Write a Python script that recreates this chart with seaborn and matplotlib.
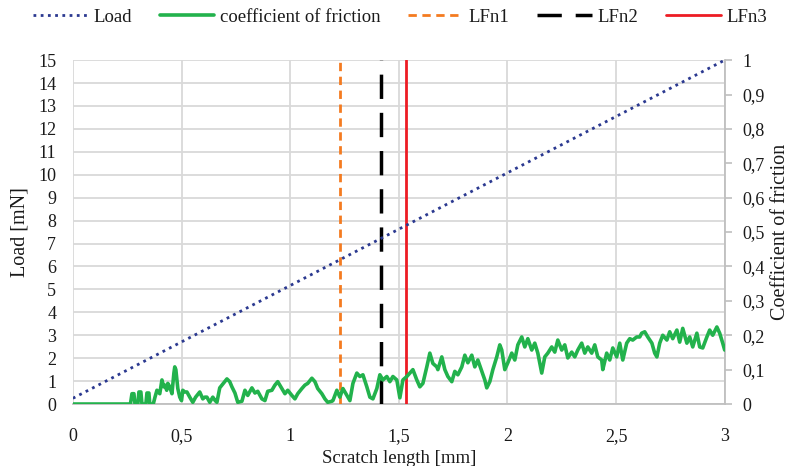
import numpy as np
import pandas as pd
import matplotlib
matplotlib.use("Agg")
import matplotlib.pyplot as plt
from matplotlib.ticker import FuncFormatter, MultipleLocator
from matplotlib.lines import Line2D
import seaborn as sns

# ==================== DATA ====================
load_x = [0.0, 3.0]
load_mn = [0.25, 15.0]

cof_x = [0.0, 0.265, 0.272, 0.281, 0.286, 0.299, 0.304, 0.313, 0.318, 0.336,
         0.341, 0.350, 0.354, 0.370, 0.378, 0.387, 0.400, 0.410, 0.418, 0.423,
         0.432, 0.437, 0.446, 0.456, 0.465, 0.469, 0.474, 0.479, 0.483, 0.492,
         0.500, 0.506, 0.515, 0.525, 0.538, 0.552, 0.565, 0.584, 0.598, 0.607,
         0.617, 0.630, 0.644, 0.655, 0.663, 0.676, 0.690, 0.709, 0.722, 0.732,
         0.746, 0.759, 0.778, 0.792, 0.805, 0.824, 0.838, 0.851, 0.870, 0.884,
         0.897, 0.916, 0.930, 0.943, 0.962, 0.976, 0.989, 1.008, 1.022, 1.035,
         1.054, 1.068, 1.081, 1.100, 1.114, 1.127, 1.146, 1.160, 1.173, 1.192,
         1.197, 1.215, 1.229, 1.243, 1.261, 1.275, 1.289, 1.307, 1.321, 1.335,
         1.353, 1.367, 1.381, 1.399, 1.413, 1.427, 1.445, 1.459, 1.473, 1.491,
         1.505, 1.519, 1.537, 1.551, 1.565, 1.583, 1.597, 1.611, 1.629, 1.643,
         1.657, 1.675, 1.680, 1.698, 1.712, 1.726, 1.744, 1.758, 1.772, 1.790,
         1.804, 1.818, 1.836, 1.850, 1.864, 1.882, 1.896, 1.905, 1.919, 1.933,
         1.951, 1.965, 1.974, 1.988, 2.002, 2.020, 2.034, 2.048, 2.066, 2.080,
         2.094, 2.112, 2.126, 2.140, 2.158, 2.172, 2.186, 2.204, 2.218, 2.232,
         2.250, 2.264, 2.278, 2.296, 2.310, 2.324, 2.342, 2.356, 2.370, 2.388,
         2.402, 2.416, 2.434, 2.439, 2.457, 2.471, 2.485, 2.503, 2.517, 2.531,
         2.549, 2.563, 2.577, 2.595, 2.609, 2.618, 2.632, 2.646, 2.665, 2.678,
         2.688, 2.701, 2.715, 2.734, 2.747, 2.761, 2.780, 2.793, 2.807, 2.826,
         2.839, 2.853, 2.872, 2.885, 2.899, 2.918, 2.931, 2.945, 2.964, 2.977,
         2.991, 3.000]
cof = [0.0, 0.0, 0.030, 0.030, 0.0, 0.0, 0.035, 0.035, 0.0, 0.0,
       0.032, 0.032, 0.0, 0.0, 0.020, 0.040, 0.030, 0.070, 0.050, 0.055,
       0.040, 0.060, 0.050, 0.030, 0.090, 0.108, 0.100, 0.070, 0.045, 0.020,
       0.010, 0.040, 0.035, 0.035, 0.020, 0.005, 0.020, 0.035, 0.015, 0.020,
       0.020, 0.005, 0.020, 0.010, 0.005, 0.047, 0.058, 0.073, 0.065, 0.050,
       0.032, 0.005, 0.008, 0.040, 0.025, 0.047, 0.032, 0.037, 0.015, 0.010,
       0.037, 0.040, 0.055, 0.065, 0.045, 0.030, 0.040, 0.025, 0.015, 0.030,
       0.045, 0.055, 0.060, 0.075, 0.065, 0.045, 0.030, 0.015, 0.005, 0.008,
       0.010, 0.040, 0.020, 0.045, 0.025, 0.010, 0.060, 0.090, 0.080, 0.085,
       0.050, 0.020, 0.015, 0.045, 0.085, 0.070, 0.080, 0.065, 0.080, 0.070,
       0.018, 0.070, 0.080, 0.090, 0.100, 0.070, 0.050, 0.060, 0.108, 0.148,
       0.118, 0.108, 0.100, 0.137, 0.100, 0.080, 0.065, 0.095, 0.085, 0.108,
       0.142, 0.120, 0.142, 0.108, 0.128, 0.095, 0.070, 0.047, 0.065, 0.100,
       0.137, 0.172, 0.157, 0.100, 0.120, 0.148, 0.128, 0.172, 0.195, 0.166,
       0.190, 0.157, 0.177, 0.148, 0.090, 0.137, 0.148, 0.166, 0.151, 0.186,
       0.157, 0.172, 0.134, 0.151, 0.137, 0.157, 0.177, 0.148, 0.166, 0.148,
       0.172, 0.137, 0.128, 0.100, 0.148, 0.128, 0.163, 0.137, 0.177, 0.128,
       0.177, 0.190, 0.186, 0.195, 0.195, 0.206, 0.210, 0.195, 0.177, 0.148,
       0.137, 0.177, 0.200, 0.186, 0.210, 0.190, 0.215, 0.180, 0.220, 0.177,
       0.195, 0.166, 0.206, 0.166, 0.163, 0.195, 0.215, 0.200, 0.224, 0.206,
       0.177, 0.157]

lfn_names = ["LFn1", "LFn2", "LFn3"]
lfn_x = [1.229, 1.417, 1.532]

# ==================== STYLE ====================
sns.set_theme(style="white")
plt.rcParams["font.family"] = ["Liberation Serif", "DejaVu Serif"]

c_load = "#2B3990"
c_cof = "#22B24C"
c_grid = "#D9D9D9"
c_txt = "#1A1A1A"
lfn_styles = [
    dict(color="#F47B20", linestyle=(0, (3, 2)), linewidth=2.0),
    dict(color="#000000", linestyle=(0, (7, 4)), linewidth=2.5),
    dict(color="#ED1C24", linestyle="-", linewidth=2.0),
]

fig = plt.figure(figsize=(7.92, 4.66), dpi=100)
ax = fig.add_axes([0.092, 0.133, 0.823, 0.738])
ax2 = ax.twinx()

load_df = pd.DataFrame({"x": load_x, "load": load_mn})
cof_df = pd.DataFrame({"x": cof_x, "cof": cof})

sns.lineplot(data=load_df, x="x", y="load", ax=ax, color=c_load,
             linestyle=(0, (1, 1.6)), linewidth=2.0, zorder=5)
for name, xv, st in zip(lfn_names, lfn_x, lfn_styles):
    ax.plot([xv, xv], [0, 15], zorder=4, **st)
sns.lineplot(data=cof_df, x="x", y="cof", ax=ax2, color=c_cof,
             linewidth=2.6, zorder=3)

# ==================== AXES ====================
ax.set_xlim(0, 3)
ax.set_ylim(0, 15)
ax2.set_ylim(0, 1)
ax.xaxis.set_major_locator(MultipleLocator(0.5))
ax.yaxis.set_major_locator(MultipleLocator(1))
ax2.yaxis.set_major_locator(MultipleLocator(0.1))

comma = FuncFormatter(lambda v, p: ("%g" % round(v, 2)).replace(".", ","))
ax.xaxis.set_major_formatter(comma)
ax2.yaxis.set_major_formatter(comma)

ax.grid(True, color=c_grid, linewidth=1.3)
ax2.grid(False)
ax.set_axisbelow(True)
for a in (ax, ax2):
    for s in a.spines.values():
        s.set_visible(False)
ax2.spines["right"].set_visible(True)
ax2.spines["right"].set_color("#BFBFBF")
ax2.spines["right"].set_linewidth(1.3)
ax.spines["bottom"].set_visible(True)
ax.spines["bottom"].set_color("#BFBFBF")
ax.spines["bottom"].set_linewidth(1.3)

ax.tick_params(axis="y", length=0, labelsize=13, colors=c_txt, pad=12)
ax.tick_params(axis="x", length=0, labelsize=13, colors=c_txt, pad=17)
ax2.tick_params(axis="y", length=5, width=1.2, color="#BFBFBF",
                labelsize=13, labelcolor=c_txt, pad=8)

ax.set_xlabel("Scratch length [mm]", fontsize=13.5, labelpad=4, color=c_txt)
ax.set_ylabel("Load [mN]", fontsize=14.5, labelpad=6, color=c_txt)
ax2.set_ylabel("Coefficient of friction", fontsize=14.5, labelpad=4, color=c_txt)

# ==================== LEGEND ====================
handles = [
    Line2D([], [], color=c_load, linestyle=(0, (1, 1.6)), linewidth=2.0),
    Line2D([], [], color=c_cof, linewidth=2.6),
] + [Line2D([], [], **st) for st in lfn_styles]
labels = ["Load", "coefficient of friction"] + lfn_names
fig.legend(handles, labels, loc="center", bbox_to_anchor=(0.505, 0.963),
           ncol=5, frameon=False, fontsize=13.5, handlelength=2.9,
           columnspacing=1.5, handletextpad=0.3, labelcolor=c_txt)

fig.savefig("out.png", dpi=100)
